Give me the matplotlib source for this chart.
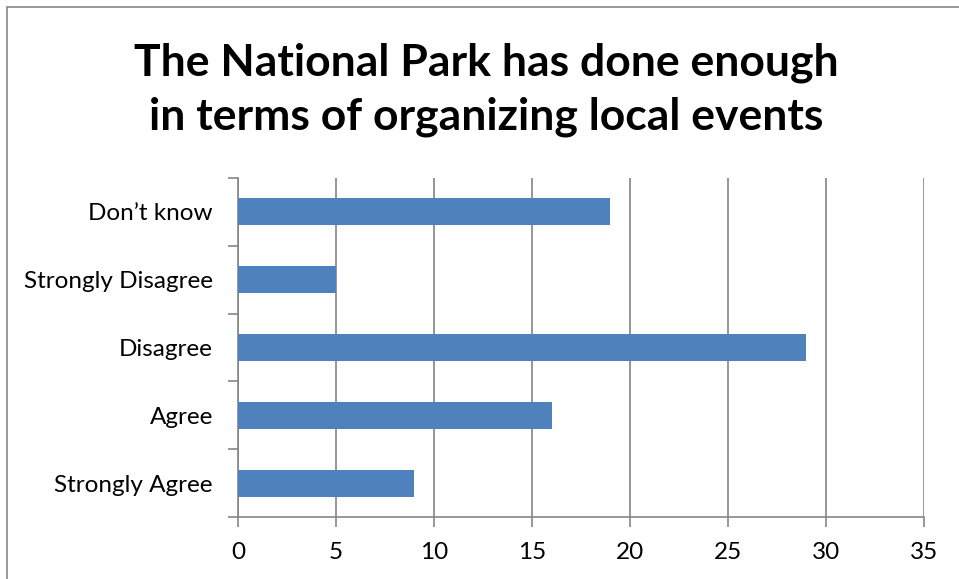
import matplotlib.pyplot as plt
from matplotlib.patches import Rectangle

categories = ["Strongly Agree", "Agree", "Disagree", "Strongly Disagree", "Don\u2019t know"]
values = [9, 16, 29, 5, 19]
x_ticks = [0, 5, 10, 15, 20, 25, 30, 35]
title = "The National Park has done enough\nin terms of organizing local events"

plt.rcParams["font.family"] = ["Lato", "DejaVu Sans"]

W, H = 959, 579
fig = plt.figure(figsize=(W / 100, H / 100), dpi=100)

# chart area border (cropped on the right and bottom)
fig.patches.append(Rectangle((7 / W, -0.1), 1.2, 1 - 7 / H + 0.1,
                             transform=fig.transFigure, fill=False,
                             edgecolor="#868686", linewidth=1.2))

left, right, top, bottom = 238, 924, 178, 517
ax = fig.add_axes([left / W, 1 - bottom / H, (right - left) / W, (bottom - top) / H])

ypos = range(len(categories))
ax.barh(ypos, values, height=0.4, color="#4F81BD", zorder=3)

ax.set_xlim(0, 35)
ax.set_ylim(-0.5, len(categories) - 0.5)
ax.set_xticks(x_ticks)
ax.set_xticklabels([str(t) for t in x_ticks], fontsize=17.5)
ax.set_yticks(ypos)
ax.set_yticklabels(categories, fontsize=17.5)
ax.set_yticks([i - 0.5 for i in range(len(categories) + 1)], minor=True)
ax.tick_params(axis="y", which="major", length=0, pad=18)
ax.tick_params(axis="y", which="minor", length=7, color="#868686", width=1.2)
ax.tick_params(axis="x", length=7, color="#868686", width=1.2, pad=11)

ax.grid(True, axis="x", color="#969696", linewidth=1.4, zorder=0)
for s in ["top", "right"]:
    ax.spines[s].set_visible(False)
for s in ["left", "bottom"]:
    ax.spines[s].set_color("#868686")
    ax.spines[s].set_linewidth(1.2)

fig.text(486 / W, 1 - 90 / H, title, ha="center", va="center",
         fontsize=32, fontweight="bold", linespacing=1.42)

fig.savefig("out.png", dpi=100)
